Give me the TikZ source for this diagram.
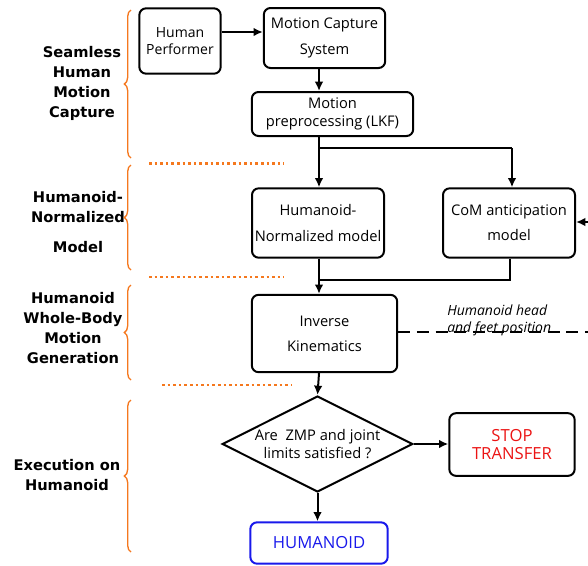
\documentclass[tikz,border=0pt]{standalone}
\usepackage{fontspec}
\setmainfont{Open Sans}
\newfontfamily\labfont{DejaVu Sans}
\usetikzlibrary{shapes.geometric,decorations.pathreplacing,arrows.meta}

\definecolor{braceorange}{RGB}{245,120,30}
\definecolor{stopred}{RGB}{235,20,20}
\definecolor{hublue}{RGB}{25,25,235}

\tikzset{
  box/.style={draw,thick,line width=1.5pt,rounded corners=5pt,align=center,
    font=\fontsize{11}{19}\selectfont,inner sep=0pt},
  arr/.style={line width=1.5pt,-{Latex[length=7pt,width=6.5pt]}},
  side/.style={align=center,font=\labfont\bfseries\fontsize{11}{15}\selectfont},
  sep/.style={braceorange,line width=2pt,dash pattern=on 2pt off 2.2pt},
  brc/.style={braceorange,line width=1pt,decorate,decoration={brace,amplitude=5pt}}
}

\begin{document}
\begin{tikzpicture}[x=0.75pt,y=-0.75pt]
\useasboundingbox (0,0) rectangle (588,565);
% boxes
\node[box,minimum width=61pt,minimum height=49pt,font=\fontsize{10.5}{13}\selectfont] (perf) at (180,41) {Human\\Performer};
\node[box,minimum width=91pt,minimum height=45pt] (mocap) at (324.5,38) {Motion Capture\\System};
\node[box,minimum width=121pt,minimum height=33pt,font=\fontsize{11}{14}\selectfont] (pre) at (332.5,114) {Motion\\preprocessing (LKF)};
\node[box,minimum width=99pt,minimum height=52pt] (hnm) at (318,223) {Humanoid-\\Normalized model};
\node[box,minimum width=99pt,minimum height=52pt] (com) at (509,223) {CoM anticipation\\model};
\node[box,minimum width=109pt,minimum height=58pt] (ik) at (324.5,333.5) {Inverse\\Kinematics};
\node[draw,line width=1.5pt,diamond,aspect=2,inner sep=0pt,minimum width=143pt,minimum height=72pt,
  align=center,font=\fontsize{11}{13}\selectfont] (zmp) at (317.5,444) {Are\ \ ZMP and joint\\limits satisfied ?};
\node[box,minimum width=94pt,minimum height=47pt,text=stopred,font=\fontsize{12.5}{14}\selectfont] (stop) at (512,444.5) {STOP\\TRANSFER};
\node[box,draw=hublue,minimum width=103pt,minimum height=31pt,text=hublue,font=\fontsize{12.5}{14}\selectfont] (hum) at (319,543) {HUMANOID};

% connectors
\coordinate (split) at (319,148);
\coordinate (splitr) at (512,148);
\coordinate (join) at (319,280);
\coordinate (joinr) at (510,280);
\coordinate (comin) at (590,222);
\coordinate (ikout) at (590,332);
\draw[arr] (perf.east |- 0,32) -- (mocap.west |- 0,32);
\draw[arr] (mocap.south -| 319,0) -- (pre.north -| 319,0);
\draw[line width=1.5pt] (pre.south -| split) -- (split) -- (splitr);
\draw[arr] (split) -- (hnm.north -| split);
\draw[arr] (splitr) -- (com.north -| splitr);
\draw[arr] (comin) -- (com.east |- comin);
\draw[line width=1.5pt] (com.south -| joinr) -- (joinr) -- (join);
\draw[arr] (hnm.south -| join) -- (ik.north -| join);
\draw[line width=1.5pt,dash pattern=on 9pt off 5pt] (ik.east |- ikout) -- (ikout);
\node[font=\itshape\fontsize{10.5}{13}\selectfont,align=left,anchor=south west,inner sep=0pt] (ikl) at (447,336) {Humanoid head\\and feet position};
\draw[arr] (ik.south -| 319,0) -- (zmp.north);
\draw[arr] (zmp.east) -- (stop.west |- zmp.east);
\draw[arr] (zmp.south) -- (hum.north -| zmp.south);

% left side
\node[side] (cap) at (82,83.5) {Seamless\\Human\\Motion\\Capture};
\node[side] (norm) at (78,222) {Humanoid-\\Normalized\\[8pt]Model};
\node[side] (gen) at (73,328.5) {Humanoid\\Whole-Body\\Motion\\Generation};
\node[side] (exe) at (67,475.5) {Execution on\\Humanoid};
\draw[brc] (131,158) -- (131,10);
\draw[brc] (131,270) -- (131,165);
\draw[brc] (131,380) -- (131,285);
\draw[brc] (131,552) -- (131,400);
\draw[sep] (149,163.5) -- (284,163.5);
\draw[sep] (149,277) -- (284,277);
\draw[sep] (162,385) -- (291,385);
\end{tikzpicture}
\end{document}
